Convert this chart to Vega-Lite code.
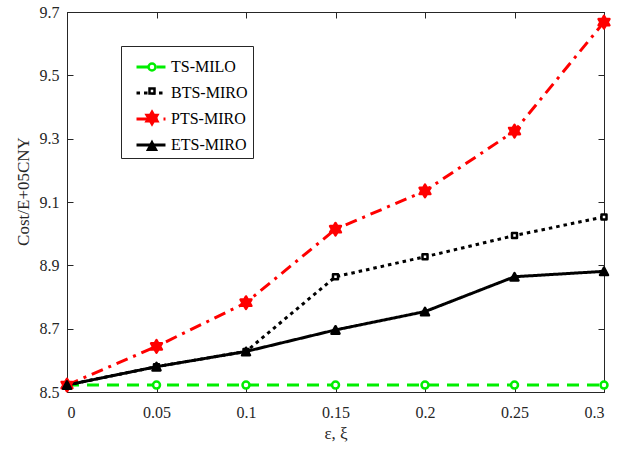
{
  "$schema": "https://vega.github.io/schema/vega-lite/v6.json",
  "width": 537,
  "height": 380,
  "autosize": {"type": "none"},
  "padding": {"left": 67, "top": 12, "right": 22, "bottom": 57},
  "background": "white",
  "config": {
    "view": {"stroke": "#262626", "strokeWidth": 1},
    "font": "Liberation Serif",
    "axis": {
      "labelFont": "Liberation Serif",
      "labelFontSize": 16,
      "labelColor": "#262626",
      "titleFont": "Liberation Serif",
      "titleFontSize": 17,
      "titleFontWeight": "normal",
      "titleColor": "#262626",
      "domainColor": "#262626",
      "tickColor": "#262626",
      "grid": false
    },
    "legend": {
      "labelFont": "Liberation Serif",
      "labelFontSize": 16,
      "labelColor": "black",
      "title": null
    }
  },
  "data": {
    "values": [
      {"eps": 0, "cost": 8.522, "series": "TS-MILO"},
      {"eps": 0.05, "cost": 8.522, "series": "TS-MILO"},
      {"eps": 0.1, "cost": 8.522, "series": "TS-MILO"},
      {"eps": 0.15, "cost": 8.522, "series": "TS-MILO"},
      {"eps": 0.2, "cost": 8.522, "series": "TS-MILO"},
      {"eps": 0.25, "cost": 8.522, "series": "TS-MILO"},
      {"eps": 0.3, "cost": 8.522, "series": "TS-MILO"},
      {"eps": 0, "cost": 8.522, "series": "BTS-MIRO"},
      {"eps": 0.05, "cost": 8.58, "series": "BTS-MIRO"},
      {"eps": 0.1, "cost": 8.628, "series": "BTS-MIRO"},
      {"eps": 0.15, "cost": 8.864, "series": "BTS-MIRO"},
      {"eps": 0.2, "cost": 8.927, "series": "BTS-MIRO"},
      {"eps": 0.25, "cost": 8.994, "series": "BTS-MIRO"},
      {"eps": 0.3, "cost": 9.053, "series": "BTS-MIRO"},
      {"eps": 0, "cost": 8.522, "series": "PTS-MIRO"},
      {"eps": 0.05, "cost": 8.644, "series": "PTS-MIRO"},
      {"eps": 0.1, "cost": 8.782, "series": "PTS-MIRO"},
      {"eps": 0.15, "cost": 9.014, "series": "PTS-MIRO"},
      {"eps": 0.2, "cost": 9.135, "series": "PTS-MIRO"},
      {"eps": 0.25, "cost": 9.324, "series": "PTS-MIRO"},
      {"eps": 0.3, "cost": 9.668, "series": "PTS-MIRO"},
      {"eps": 0, "cost": 8.522, "series": "ETS-MIRO"},
      {"eps": 0.05, "cost": 8.58, "series": "ETS-MIRO"},
      {"eps": 0.1, "cost": 8.628, "series": "ETS-MIRO"},
      {"eps": 0.15, "cost": 8.696, "series": "ETS-MIRO"},
      {"eps": 0.2, "cost": 8.754, "series": "ETS-MIRO"},
      {"eps": 0.25, "cost": 8.864, "series": "ETS-MIRO"},
      {"eps": 0.3, "cost": 8.881, "series": "ETS-MIRO"}
    ]
  },
  "resolve": {"axis": {"x": "independent", "y": "independent"}},
  "layer": [
    {
      "mark": {"type": "line", "strokeWidth": 3, "strokeCap": "butt"},
      "encoding": {
        "x": {
          "field": "eps", "type": "quantitative",
          "scale": {"domain": [0, 0.3], "nice": false, "zero": false},
          "axis": {
            "orient": "bottom",
            "values": [0, 0.05, 0.1, 0.15, 0.2, 0.25, 0.3],
            "format": "~g",
            "ticks": false,
            "labelPadding": 12,
            "title": "ε, ξ",
            "titlePadding": 5
          }
        },
        "y": {
          "field": "cost", "type": "quantitative",
          "scale": {"domain": [8.5, 9.7], "nice": false, "zero": false},
          "axis": {
            "orient": "left",
            "values": [8.5, 8.7, 8.9, 9.1, 9.3, 9.5, 9.7],
            "format": ".1f",
            "ticks": false,
            "labelPadding": 8,
            "title": "Cost/E+05CNY",
            "titleX": -44,
            "titleY": 179,
            "titleAngle": -90,
            "titleAlign": "center",
            "titleBaseline": "middle"
          }
        },
        "color": {
          "field": "series", "type": "nominal",
          "scale": {
            "domain": ["TS-MILO", "BTS-MIRO", "PTS-MIRO", "ETS-MIRO"],
            "range": ["#00ee00", "#000000", "#ff0000", "#000000"]
          },
          "legend": {
            "orient": "none",
            "legendX": 54,
            "legendY": 34,
            "symbolType": "stroke",
            "symbolSize": 840,
            "symbolStrokeWidth": 3,
            "symbolOffset": 9,
            "labelOffset": 4,
            "padding": 5,
            "rowPadding": 2,
            "strokeColor": "#262626",
            "fillColor": "white",
            "labelExpr": "datum.label == 'TS-MILO' ? '\u00a0\u00a0TS-MILO' : datum.label"
          }
        },
        "strokeDash": {
          "field": "series", "type": "nominal",
          "scale": {
            "domain": ["TS-MILO", "BTS-MIRO", "PTS-MIRO", "ETS-MIRO"],
            "range": [[12, 8], [3.5, 4], [12, 6, 3, 6], [1, 0]]
          }
        }
      }
    },
    {
      "mark": {"type": "point", "opacity": 1, "size": 100, "strokeWidth": 2.5, "strokeJoin": "round"},
      "encoding": {
        "x": {"field": "eps", "type": "quantitative", "axis": null},
        "y": {"field": "cost", "type": "quantitative", "axis": null},
        "shape": {
          "field": "series", "type": "nominal",
          "scale": {
            "domain": ["BTS-MIRO", "ETS-MIRO", "PTS-MIRO", "TS-MILO"],
            "range": [
              "M-0.5,-0.5L0.5,-0.5L0.5,0.5L-0.5,0.5Z",
              "M0,-0.75L0.8,0.75L-0.8,0.75Z",
              "M0,-1.25L0.361,-0.625L1.083,-0.625L0.722,0L1.083,0.625L0.361,0.625L0,1.25L-0.361,0.625L-1.083,0.625L-0.722,0L-1.083,-0.625L-0.361,-0.625Z",
              "M0.7,0A0.7,0.7,0,1,1,-0.7,0A0.7,0.7,0,1,1,0.7,0Z"
            ]
          },
          "legend": {
            "orient": "none",
            "legendX": 64,
            "legendY": 34,
            "values": ["TS-MILO", "BTS-MIRO", "PTS-MIRO", "ETS-MIRO"],
            "symbolSize": 100,
            "symbolStrokeWidth": 2.5,
            "labelOffset": 5,
            "padding": 13,
            "rowPadding": 7,
            "labelExpr": "''"
          }
        },
        "fill": {
          "field": "series", "type": "nominal",
          "scale": {
            "domain": ["BTS-MIRO", "ETS-MIRO", "PTS-MIRO", "TS-MILO"],
            "range": ["#ffffff", "#000000", "#ff0000", "#ffffff"]
          }
        },
        "stroke": {
          "field": "series", "type": "nominal",
          "scale": {
            "domain": ["BTS-MIRO", "ETS-MIRO", "PTS-MIRO", "TS-MILO"],
            "range": ["#000000", "#000000", "#ff0000", "#00ee00"]
          }
        }
      }
    },
    {
      "mark": {"type": "point", "opacity": 0},
      "encoding": {
        "x": {
          "field": "eps", "type": "quantitative",
          "axis": {"orient": "top", "values": [0, 0.05, 0.1, 0.15, 0.2, 0.25, 0.3], "tickSize": -6, "labels": false, "title": null}
        },
        "y": {
          "field": "cost", "type": "quantitative",
          "axis": {"orient": "right", "values": [8.5, 8.7, 8.9, 9.1, 9.3, 9.5, 9.7], "tickSize": -6, "labels": false, "title": null}
        }
      }
    },
    {
      "mark": {"type": "point", "opacity": 0},
      "encoding": {
        "x": {
          "field": "eps", "type": "quantitative",
          "axis": {"orient": "bottom", "values": [0, 0.05, 0.1, 0.15, 0.2, 0.25, 0.3], "tickSize": -6, "labels": false, "domain": false, "title": null}
        },
        "y": {
          "field": "cost", "type": "quantitative",
          "axis": {"orient": "left", "values": [8.5, 8.7, 8.9, 9.1, 9.3, 9.5, 9.7], "tickSize": -6, "labels": false, "domain": false, "title": null}
        }
      }
    }
  ]
}
